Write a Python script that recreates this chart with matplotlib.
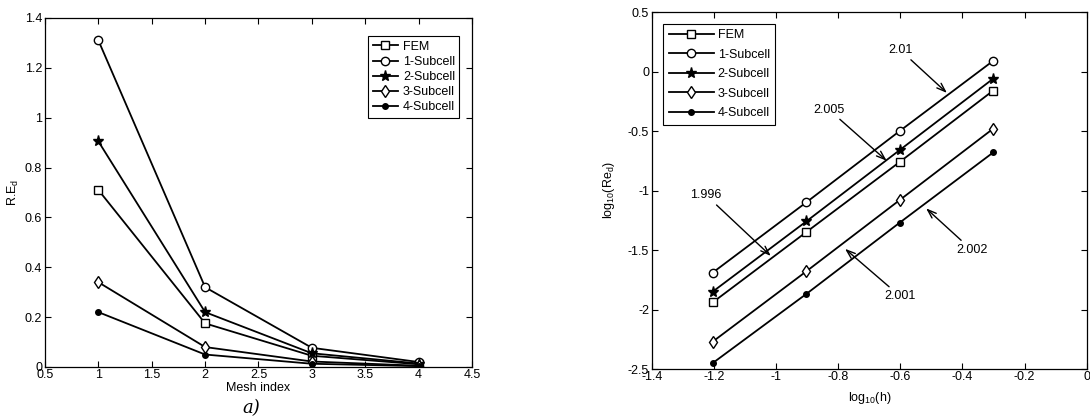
import numpy as np
import matplotlib.pyplot as plt

plt.rcParams['font.family'] = ['Liberation Sans', 'DejaVu Sans']
plt.rcParams['axes.unicode_minus'] = False
plt.rcParams['mathtext.fontset'] = 'custom'
plt.rcParams['mathtext.rm'] = 'Liberation Sans'

names = ['FEM', '1-Subcell', '2-Subcell', '3-Subcell', '4-Subcell']
markers = ['s', 'o', '*', 'd', '.']

# panel a) relative error vs mesh index
mesh = [1, 2, 3, 4]
re_fem = [0.71, 0.175, 0.045, 0.011]
re_sub1 = [1.31, 0.32, 0.077, 0.02]
re_sub2 = [0.905, 0.22, 0.055, 0.014]
re_sub3 = [0.34, 0.08, 0.022, 0.005]
re_sub4 = [0.22, 0.05, 0.013, 0.0035]

# panel b) log-log convergence
log_h = [-1.204, -0.903, -0.602, -0.301]
lg_fem = [-1.94, -1.35, -0.76, -0.16]
lg_sub1 = [-1.69, -1.10, -0.50, 0.09]
lg_sub2 = [-1.85, -1.26, -0.66, -0.06]
lg_sub3 = [-2.27, -1.68, -1.08, -0.48]
lg_sub4 = [-2.45, -1.87, -1.27, -0.68]

# slope labels: text, text position, arrow tip
slopes = ['2.01', '2.005', '1.996', '2.002', '2.001']
slope_txt = [(-0.60, 0.18), (-0.83, -0.32), (-1.225, -1.04), (-0.37, -1.50), (-0.60, -1.89)]
slope_tip = [(-0.45, -0.18), (-0.644, -0.75), (-1.017, -1.55), (-0.517, -1.15), (-0.778, -1.49)]

fs = 9

fig = plt.figure(figsize=(10.9, 4.2), dpi=100)
ax1 = fig.add_axes([0.0413, 0.1262, 0.3917, 0.831])
ax2 = fig.add_axes([0.598, 0.1214, 0.399, 0.85])

def style(ax):
    ax.tick_params(direction='in', top=True, right=True, length=4, width=0.8,
                   labelsize=fs, pad=2)
    ax.tick_params(axis='x', pad=1.5)
    for s in ax.spines.values():
        s.set_linewidth(0.9)

def draw(ax, x, series):
    for y, nm, mk in zip(series, names, markers):
        ms = 8 if mk in ('.', '*') else 6
        fc = 'black' if mk in ('*', '.') else 'white'
        ax.plot(x, y, color='black', lw=1.3, marker=mk, ms=ms,
                mfc=fc, mec='black', mew=1.0, label=nm)

draw(ax1, mesh, [re_fem, re_sub1, re_sub2, re_sub3, re_sub4])
ax1.set_xlim(0.5, 4.5)
ax1.set_ylim(0, 1.4)
ax1.set_xticks(np.arange(0.5, 4.51, 0.5))
ax1.set_xticklabels(['0.5', '1', '1.5', '2', '2.5', '3', '3.5', '4', '4.5'])
ax1.set_yticks(np.arange(0, 1.41, 0.2))
ax1.set_yticklabels(['0', '0.2', '0.4', '0.6', '0.8', '1', '1.2', '1.4'])
ax1.set_xlabel('Mesh index', fontsize=fs, labelpad=1)
ax1.set_ylabel(r'R.E$_\mathregular{d}$', fontsize=fs, labelpad=3)
style(ax1)
leg1 = ax1.legend(loc='upper right', fontsize=fs, handlelength=2.0,
                  labelspacing=0.25, borderpad=0.35, handletextpad=0.4,
                  fancybox=False, edgecolor='black', framealpha=1,
                  bbox_to_anchor=(0.985, 0.965))
leg1.get_frame().set_linewidth(0.8)

draw(ax2, log_h, [lg_fem, lg_sub1, lg_sub2, lg_sub3, lg_sub4])
ax2.set_xlim(-1.4, 0)
ax2.set_ylim(-2.5, 0.5)
ax2.set_xticks(np.arange(-1.4, 0.01, 0.2))
ax2.set_xticklabels(['-1.4', '-1.2', '-1', '-0.8', '-0.6', '-0.4', '-0.2', '0'])
ax2.set_yticks(np.arange(-2.5, 0.51, 0.5))
ax2.set_yticklabels(['-2.5', '-2', '-1.5', '-1', '-0.5', '0', '0.5'])
ax2.set_xlabel(r'log$_\mathregular{10}$(h)', fontsize=fs, labelpad=5)
ax2.set_ylabel(r'log$_\mathregular{10}$(Re$_\mathregular{d}$)', fontsize=fs, labelpad=8)
style(ax2)
leg2 = ax2.legend(loc='upper left', fontsize=fs, handlelength=3.6,
                  labelspacing=0.6, borderpad=0.45, handletextpad=0.3,
                  fancybox=False, edgecolor='black', framealpha=1,
                  bbox_to_anchor=(0.012, 0.985))
leg2.get_frame().set_linewidth(0.8)

for lab, xt, tip in zip(slopes, slope_txt, slope_tip):
    ax2.annotate(lab, xy=tip, xytext=xt, fontsize=fs, ha='center', va='center',
                 arrowprops=dict(arrowstyle='->,head_length=0.7,head_width=0.25',
                                 color='black', lw=1.0, shrinkA=1, shrinkB=0))

fig.text(0.222, 0.008, 'a)', fontsize=13, family='DejaVu Serif', style='italic',
         va='bottom')

fig.savefig('out.png', dpi=100)
